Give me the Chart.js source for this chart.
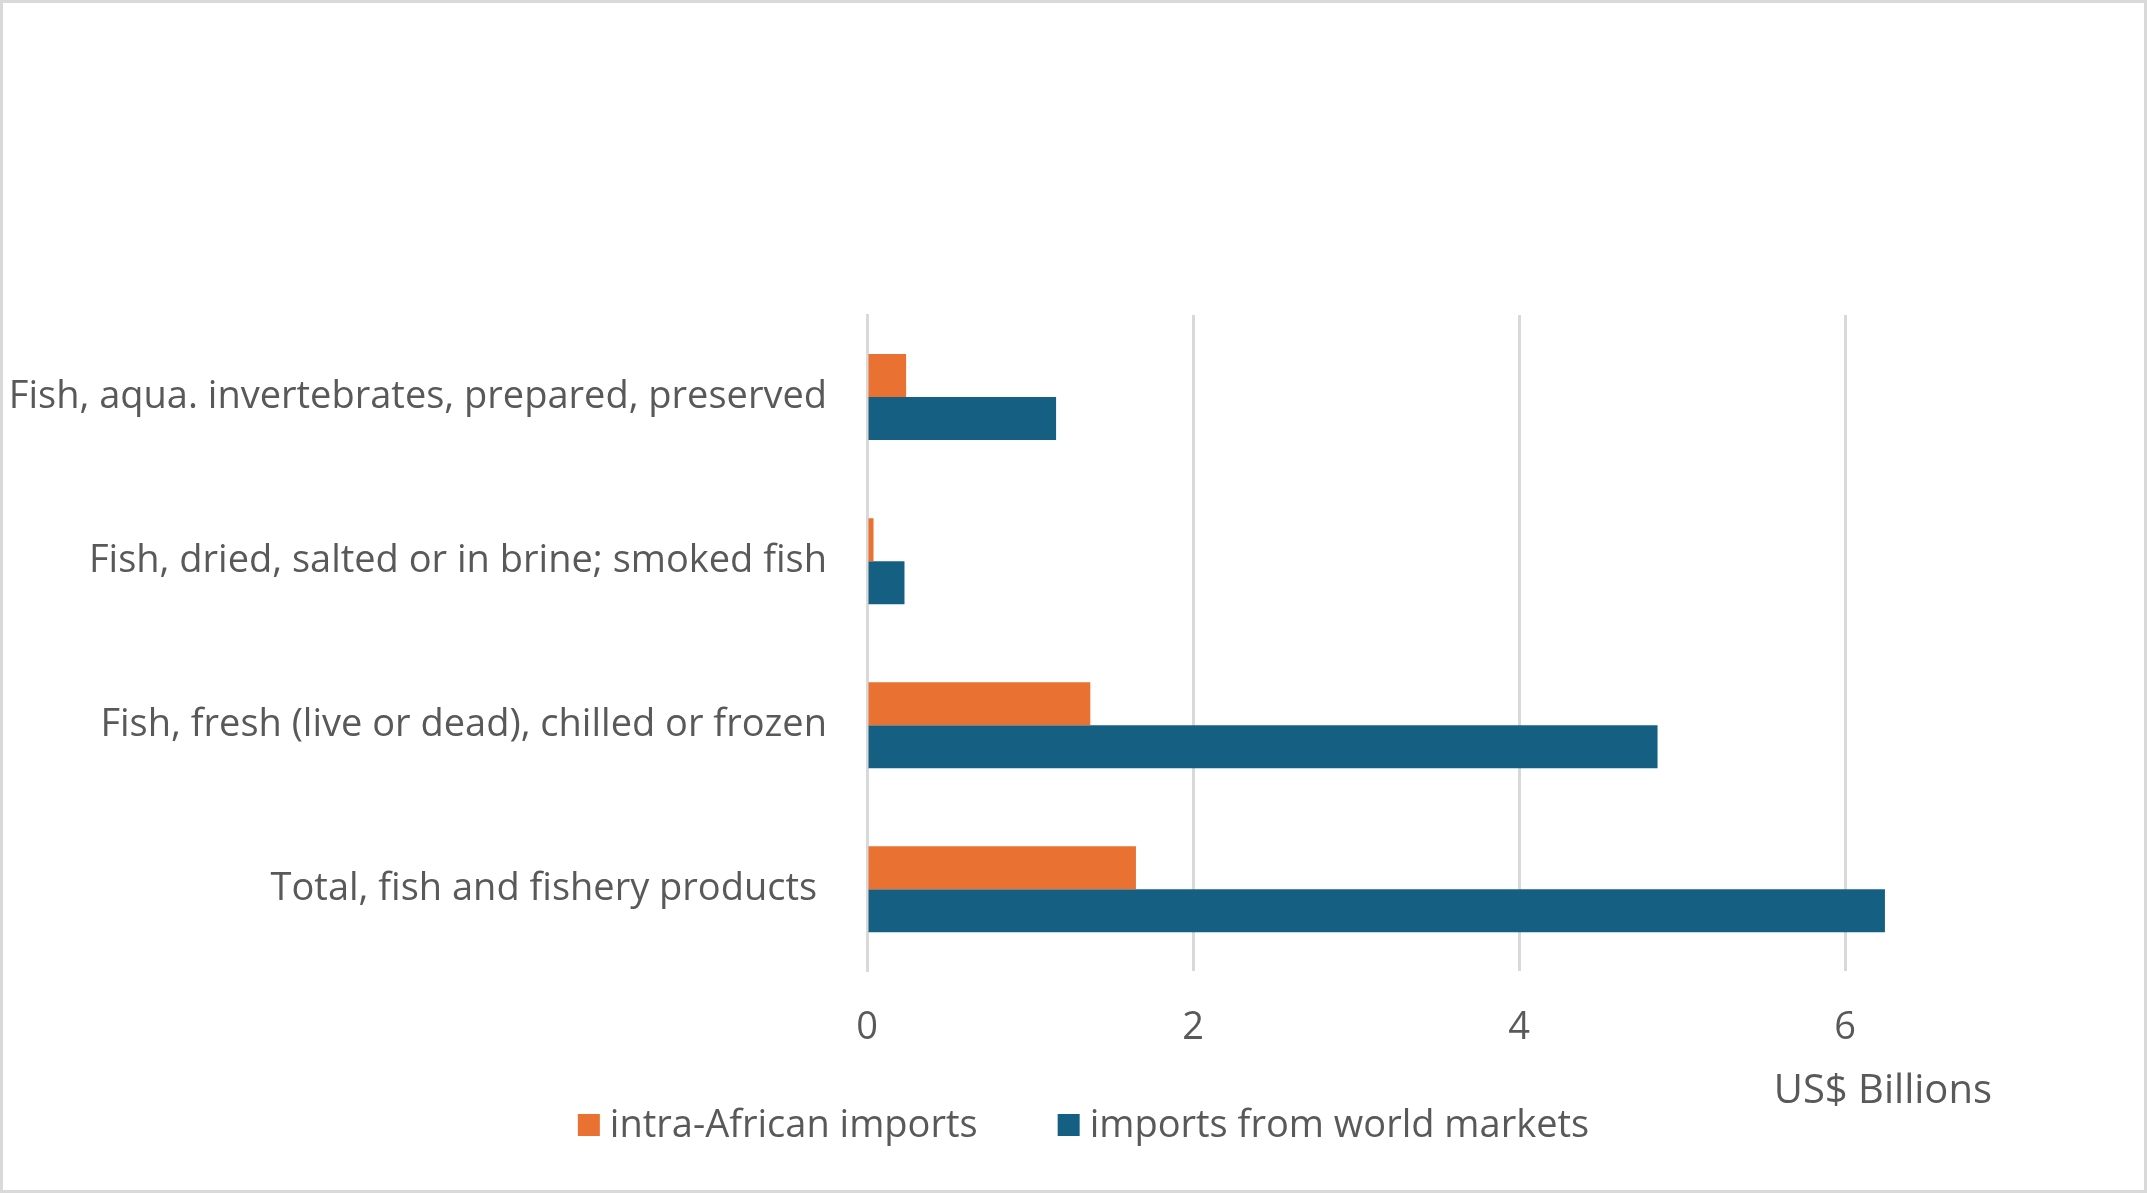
<!DOCTYPE html>
<html>
<head>
<meta charset="utf-8">
<script src="https://cdn.jsdelivr.net/npm/chart.js@4.4.1/dist/chart.umd.min.js"></script>
<style>
  html, body { margin: 0; padding: 0; background: #fff; }
  #wrap { width: 2147px; height: 1193px; position: relative; }
</style>
</head>
<body>
<div id="wrap"><canvas id="c" width="2147" height="1193"></canvas></div>
<script>
const categories = [
  "Fish, aqua. invertebrates, prepared, preserved",
  "Fish, dried, salted or in brine; smoked fish",
  "Fish, fresh (live or dead), chilled or frozen",
  "Total, fish and fishery products "
];
const intraAfrican = [0.24, 0.04, 1.37, 1.65];
const worldMarkets = [1.16, 0.23, 4.85, 6.245];
const seriesNames = ["intra-African imports", "imports from world markets"];
const axisTitle = "US$ Billions";

const FONT = "'Open Sans', 'Liberation Sans', Arial, sans-serif";
const FSIZE = 38;
const TEXT = "#595959";
const ORANGE = "#E97132";
const BLUE = "#156082";
const GRID = "#D9D9D9";

const framePlugin = {
  id: 'frame',
  beforeDraw(chart) {
    const ctx = chart.ctx;
    ctx.save();
    ctx.fillStyle = '#fff';
    ctx.fillRect(0, 0, chart.width, chart.height);
    ctx.strokeStyle = GRID;
    ctx.lineWidth = 3;
    ctx.strokeRect(1.5, 1.5, chart.width - 3, chart.height - 3);
    ctx.restore();
  }
};

const legendPlugin = {
  id: 'customLegend',
  afterDraw(chart) {
    const ctx = chart.ctx;
    ctx.save();
    ctx.textBaseline = 'middle';
    ctx.fillStyle = TEXT;
    // axis title, right-aligned near the end of the value axis
    ctx.font = "40px " + FONT;
    ctx.textAlign = 'right';
    ctx.fillText(axisTitle, chart.chartArea.right - 16, chart.height - 101);
    // legend
    ctx.font = FSIZE + "px " + FONT;
    ctx.textAlign = 'left';
    const box = 22, gapBox = 10, gapItem = 80;
    const ds = chart.data.datasets;
    let total = 0;
    const widths = ds.map(d => ctx.measureText(d.label).width);
    widths.forEach((w, i) => { total += box + gapBox + w + (i < ds.length - 1 ? gapItem : 0); });
    let x = chart.width / 2 + 10 - total / 2;
    const y = chart.height - 68;
    ds.forEach((d, i) => {
      ctx.fillStyle = d.backgroundColor;
      ctx.fillRect(x, y - box / 2, box, box);
      ctx.fillStyle = TEXT;
      ctx.fillText(d.label, x + box + gapBox, y + 1);
      x += box + gapBox + widths[i] + gapItem;
    });
    ctx.restore();
  }
};

new Chart(document.getElementById('c'), {
  type: 'bar',
  data: {
    labels: categories,
    datasets: [
      { label: seriesNames[0], data: intraAfrican, backgroundColor: ORANGE },
      { label: seriesNames[1], data: worldMarkets, backgroundColor: BLUE }
    ]
  },
  options: {
    indexAxis: 'y',
    responsive: false,
    animation: false,
    devicePixelRatio: 1,
    categoryPercentage: 0.524,
    barPercentage: 1.0,
    layout: { padding: { top: 315, right: 139, bottom: 108, left: 0 } },
    plugins: {
      legend: { display: false },
      tooltip: { enabled: false }
    },
    scales: {
      x: {
        min: 0, max: 7,
        ticks: { stepSize: 2, color: TEXT, font: { family: FONT, size: FSIZE }, padding: 34 },
        afterBuildTicks(axis) { axis.ticks = axis.ticks.filter(t => t.value % 2 === 0); },
        grid: { color: GRID, lineWidth: 3, drawTicks: false },
        border: { display: false }
      },
      y: {
        ticks: { color: TEXT, font: { family: FONT, size: FSIZE }, padding: 40 },
        grid: { display: false, drawTicks: false },
        border: { display: true, color: GRID, width: 3 },
        afterFit(scale) { scale.width = 867; }
      }
    }
  },
  plugins: [framePlugin, legendPlugin]
});
</script>
</body>
</html>
